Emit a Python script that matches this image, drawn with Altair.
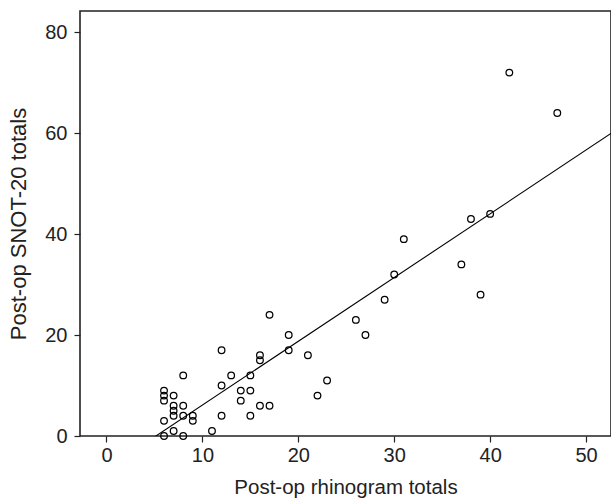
import altair as alt
import pandas as pd

# Post-op rhinogram totals (x) and Post-op SNOT-20 totals (y)
rhinogram = [42, 47, 40, 38, 31, 37, 39, 30, 29, 26, 27, 23, 22, 21, 19, 19, 17,
             16, 16, 17, 16, 15, 15, 14, 14, 15, 13, 12, 12, 12, 11, 8, 9, 9, 8, 8,
             6, 6, 6, 7, 7, 7, 7, 6, 6, 7, 8]
snot20 = [72, 64, 44, 43, 39, 34, 28, 32, 27, 23, 20, 11, 8, 16, 20, 17, 24,
          16, 15, 6, 6, 12, 9, 9, 7, 4, 12, 17, 10, 4, 1, 12, 4, 3, 6, 4,
          9, 8, 7, 8, 6, 5, 4, 3, 0, 1, 0]
x_ticks = [0, 10, 20, 30, 40, 50]
y_ticks = [0, 20, 40, 60, 80]

df = pd.DataFrame({"x": rhinogram, "y": snot20})

FONT = "Liberation Sans"
xscale = alt.Scale(domain=[-2.76, 52.6], nice=False, zero=False)
yscale = alt.Scale(domain=[0, 84.2], nice=False, zero=False)

xaxis = alt.Axis(values=x_ticks, title="Post-op rhinogram totals", grid=False,
                 domain=False, tickColor="#222", tickSize=6, tickWidth=1.2,
                 labelFont=FONT, labelFontSize=20, labelColor="#222", labelPadding=3,
                 titleFont=FONT, titleFontSize=20.5, titleFontWeight="normal",
                 titleColor="#222", titlePadding=12)
yaxis = alt.Axis(values=y_ticks, title="Post-op SNOT-20 totals", grid=False,
                 domain=False, tickColor="#222", tickSize=6, tickWidth=1.2,
                 labelFont=FONT, labelFontSize=20, labelColor="#222", labelPadding=7,
                 titleFont=FONT, titleFontSize=22, titleFontWeight="normal",
                 titleColor="#222", titlePadding=14)

base = alt.Chart(df)

points = base.mark_point(shape="circle", filled=False, color="black",
                         size=44, strokeWidth=1.25, opacity=1).encode(
    x=alt.X("x:Q", scale=xscale, axis=xaxis),
    y=alt.Y("y:Q", scale=yscale, axis=yaxis),
)

fit = base.transform_regression("x", "y", method="linear", extent=[-3, 53]).mark_line(
    color="black", strokeWidth=1.1, clip=True).encode(
    x=alt.X("x:Q", scale=xscale),
    y=alt.Y("y:Q", scale=yscale),
)

chart = (points + fit).properties(
    width=531, height=425,
    autosize=alt.AutoSizeParams(type="none"),
    padding={"left": 80, "top": 11, "right": 0, "bottom": 66},
    background="white",
).configure_view(stroke="#222", strokeWidth=1.6)

chart.save("out.html", embed_options={"renderer": "svg", "actions": False})
